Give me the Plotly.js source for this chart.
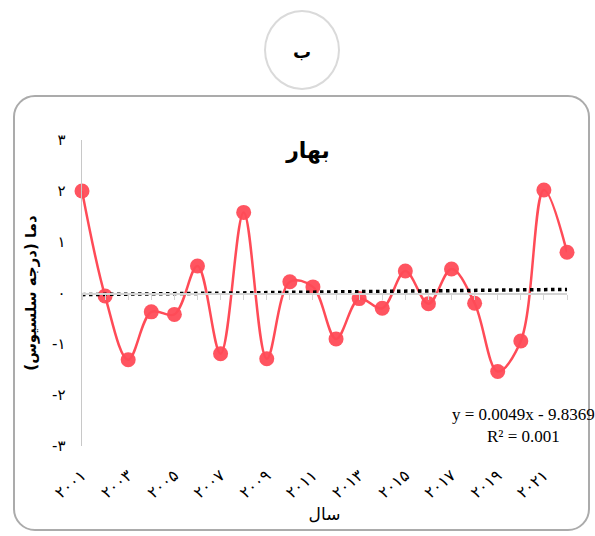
<!DOCTYPE html>
<html>
<head>
<meta charset="utf-8">
<script src="https://cdn.plot.ly/plotly-3.0.1.min.js"></script>
<style>
  html, body { margin:0; padding:0; background:#fff; width:595px; height:536px; overflow:hidden; }
  #frame { position:absolute; left:13px; top:95px; width:577px; height:436px; border:2px solid #ababab; border-radius:22px; box-sizing:border-box; }
  #badge { position:absolute; left:264px; top:10px; width:76px; height:80px; border:2px solid #dadada; border-radius:50%; box-sizing:border-box;
           font-family:"DejaVu Sans", sans-serif; font-weight:bold; font-size:18px; line-height:80px; text-align:center; color:#000; }
  #chart { position:absolute; left:0; top:0; width:595px; height:536px; }
</style>
</head>
<body>
<div id="frame"></div>
<div id="badge">ب</div>
<div id="chart"></div>
<script>
// Data
var years = [2001,2002,2003,2004,2005,2006,2007,2008,2009,2010,2011,2012,2013,2014,2015,2016,2017,2018,2019,2020,2021,2022];
var temps = [2.0,-0.06,-1.31,-0.37,-0.42,0.53,-1.19,1.58,-1.29,0.22,0.12,-0.90,-0.11,-0.30,0.43,-0.21,0.47,-0.20,-1.54,-0.94,2.02,0.80];
var trendSlope = [0.0049];
var trendIntercept = [-9.8369];
var xTickVals = [2001,2003,2005,2007,2009,2011,2013,2015,2017,2019,2021];
var xTickText = ['۲۰۰۱','۲۰۰۳','۲۰۰۵','۲۰۰۷','۲۰۰۹','۲۰۱۱','۲۰۱۳','۲۰۱۵','۲۰۱۷','۲۰۱۹','۲۰۲۱'];
var yTickVals = [-3,-2,-1,0,1,2,3];
var yTickText = ['-۳','-۲','-۱','۰','۱','۲','۳'];
var titleText = 'بهار';
var xTitleText = 'سال';
var yTitleText = 'دما (درجه سلسیوس)';
var eqText = 'y = 0.0049x - 9.8369<br>R² = 0.001';

var trendX = [years[0], years[years.length-1]];
var trendY = trendX.map(function(x){ return trendSlope[0]*x + trendIntercept[0]; });

var pfont = 'DejaVu Sans, sans-serif';

var traces = [
  {
    x: trendX, y: trendY, xaxis: 'x2', yaxis: 'y',
    mode: 'lines', line: {color:'#000', width:3.5, dash:'dot'},
    hoverinfo: 'skip', showlegend: false
  },
  {
    x: years, y: temps, xaxis: 'x', yaxis: 'y',
    mode: 'lines+markers',
    line: {color:'#ff4b57', width:2.5, shape:'spline', smoothing:1},
    marker: {color:'#ff4b57', size:15, opacity:0.95},
    cliponaxis: false, showlegend: false
  }
];

var layout = {
  width: 595, height: 536,
  margin: {l:82, r:28, t:140, b:90},
  paper_bgcolor: 'rgba(0,0,0,0)',
  plot_bgcolor: 'rgba(0,0,0,0)',
  showlegend: false,
  title: {
    text: '<b>' + titleText + '</b>',
    font: {family: pfont, size: 22, color:'#000'},
    x: 308/595, xanchor: 'center', xref: 'container',
    y: 1 - 150/536, yanchor: 'middle', yref: 'container'
  },
  xaxis: {
    range: [2001, 2022],
    tickmode: 'array', tickvals: xTickVals, ticktext: xTickText,
    tickangle: -40,
    tickfont: {family: pfont, size: 16, color:'#000'},
    ticklabelstandoff: 16,
    showline: false, showgrid: false, zeroline: false, ticks: '',
    title: {text: xTitleText, font: {family: pfont, size: 17, color:'#000'}, standoff: 6}
  },
  xaxis2: {
    range: [2001, 2022], overlaying: 'x', anchor: 'free', position: 0.5,
    side: 'bottom',
    showline: true, linecolor: '#d4d4d4', linewidth: 1.5,
    ticks: 'outside', ticklen: 5, tickcolor: '#d4d4d4', tickwidth: 1,
    tickmode: 'linear', tick0: 2001, dtick: 1,
    showticklabels: false, showgrid: false, zeroline: false
  },
  yaxis: {
    range: [-3, 3],
    tickmode: 'array', tickvals: yTickVals, ticktext: yTickText,
    tickfont: {family: pfont, size: 15, color:'#000'},
    ticklabelstandoff: 12,
    showline: true, linecolor: '#c8c8c8', linewidth: 1.5,
    showgrid: false, zeroline: false, ticks: '',
    title: {text: '<b>' + yTitleText + '</b>', font: {family: pfont, size: 15, color:'#000'}, standoff: 12}
  },
  annotations: [
    {
      xref: 'paper', yref: 'paper', x: (523-82)/485, y: (446-425)/306,
      xanchor: 'center', yanchor: 'middle', align: 'center',
      text: eqText, showarrow: false,
      font: {family: 'Liberation Serif, Times New Roman, serif', size: 17, color:'#000'}
    }
  ]
};

Plotly.newPlot('chart', traces, layout, {displayModeBar: false, staticPlot: true});
</script>
</body>
</html>
